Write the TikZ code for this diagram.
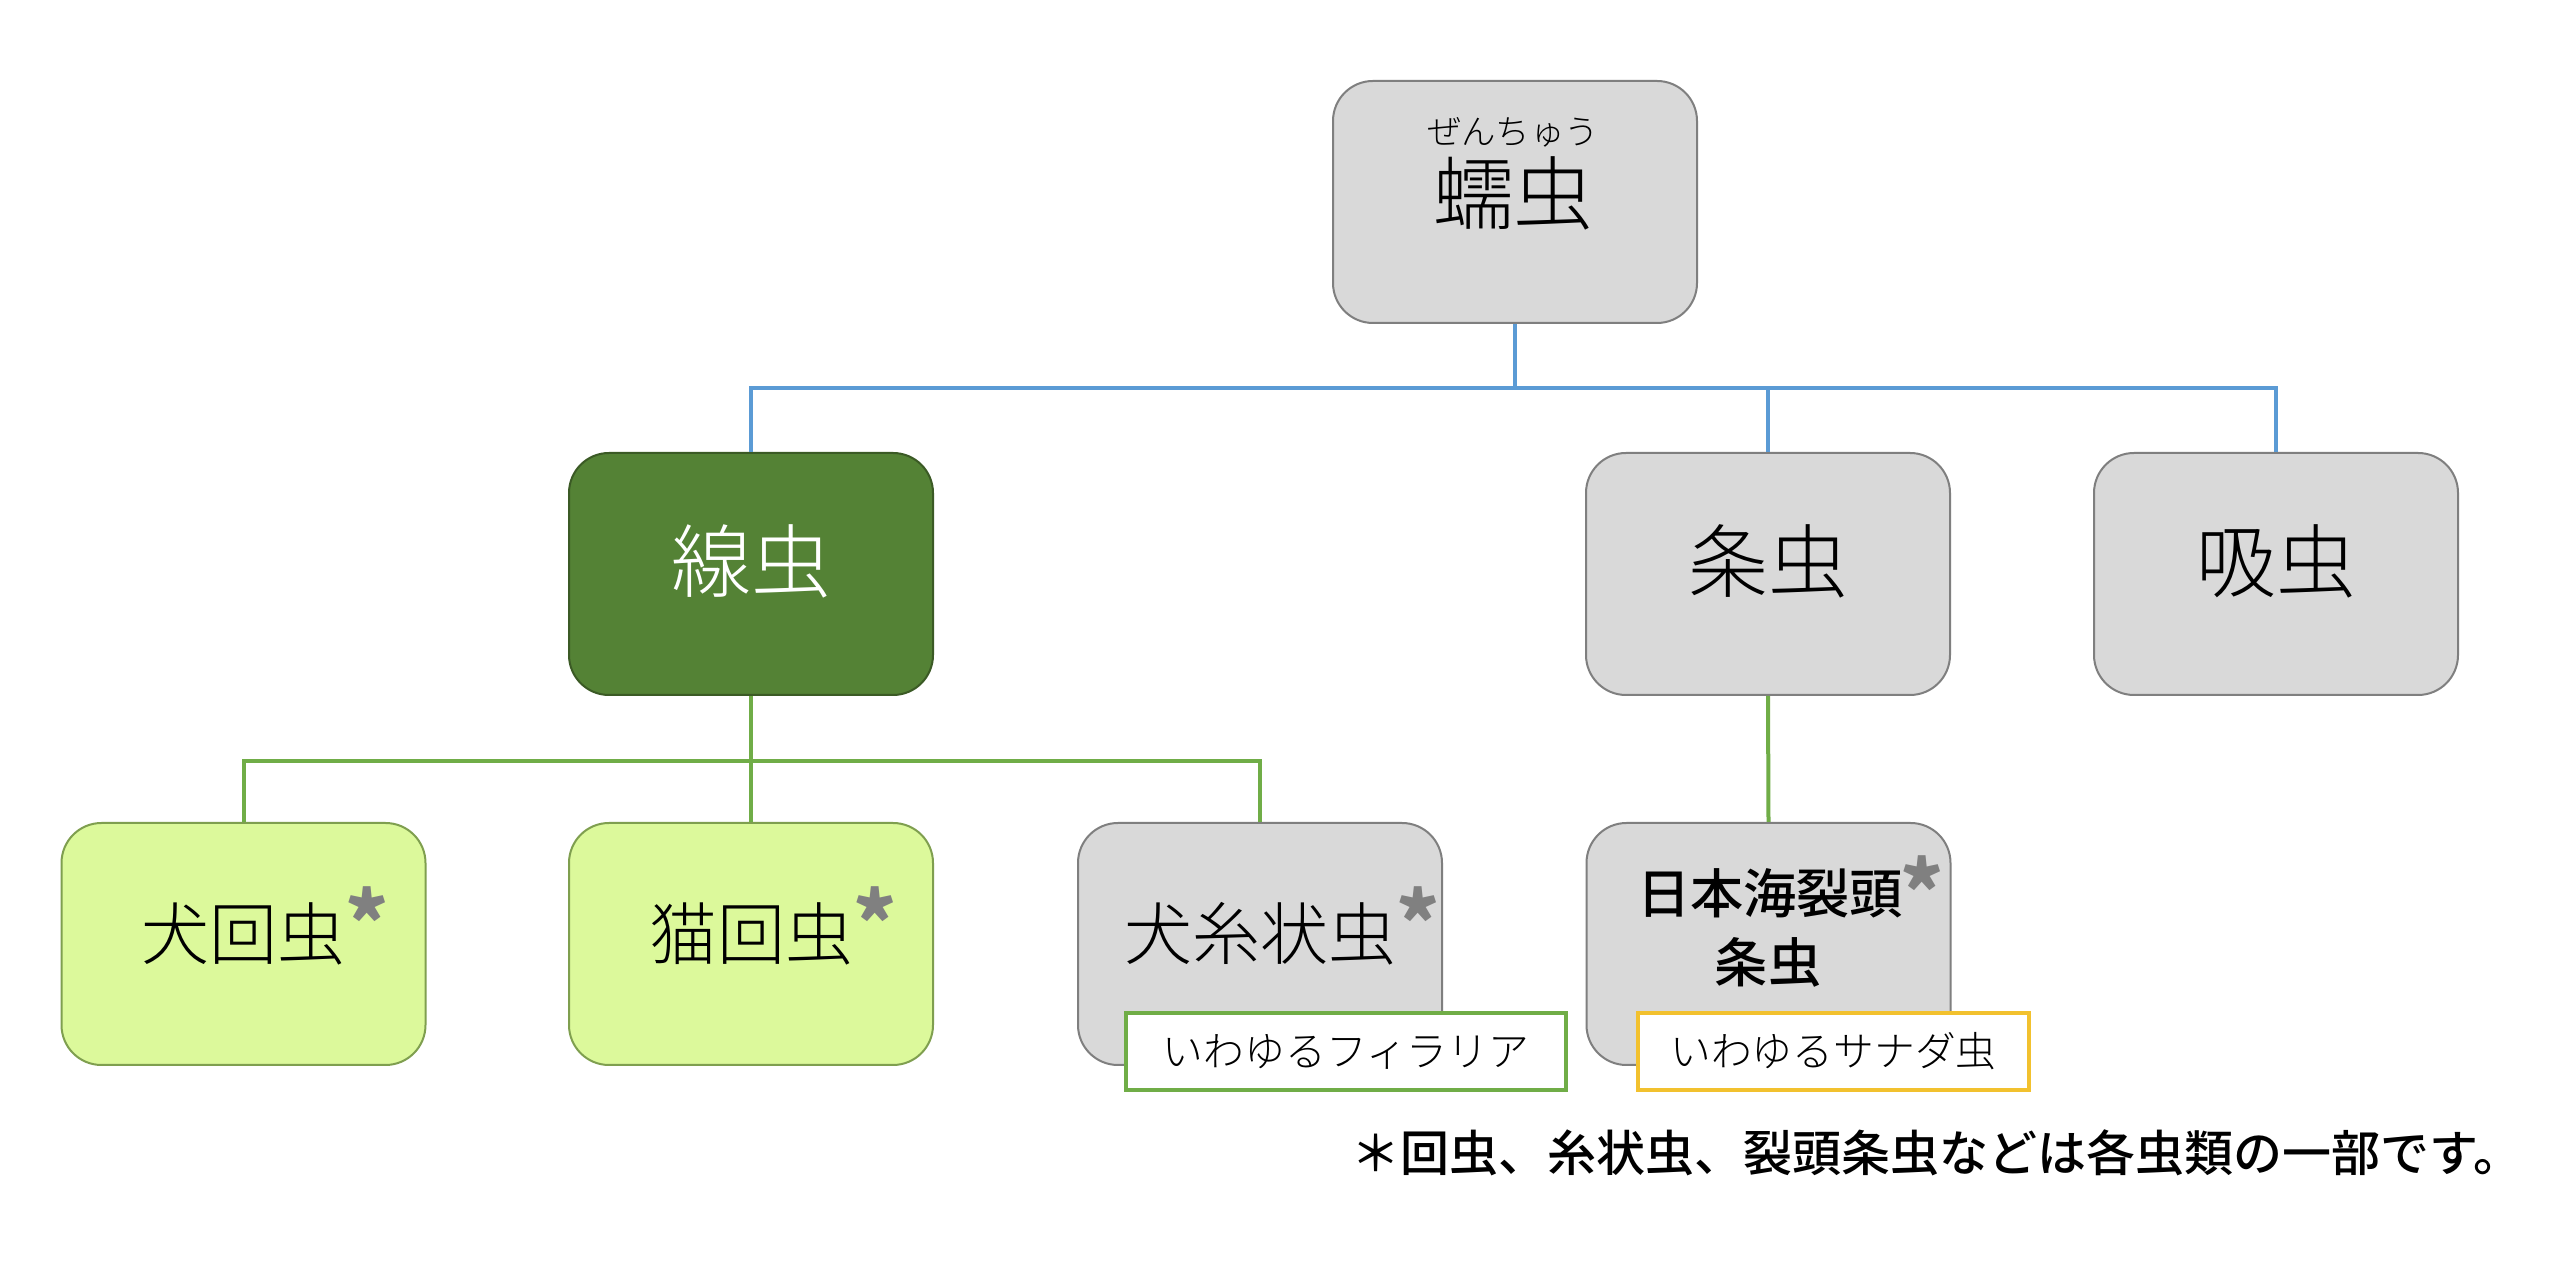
\documentclass[tikz,border=0pt]{standalone}
\usepackage{fontspec}
\newfontfamily\cjk{Noto Sans CJK JP}
\newfontfamily\cjklight{Noto Sans CJK JP Light}
\newfontfamily\cjkmed{Noto Sans CJK JP Medium}
\definecolor{grayfill}{HTML}{D9D9D9}
\definecolor{grayline}{HTML}{7F7F7F}
\definecolor{darkgreenfill}{HTML}{548235}
\definecolor{darkgreenline}{HTML}{3B5A25}
\definecolor{lightgreenfill}{HTML}{DCF99B}
\definecolor{lightgreenline}{HTML}{7F9F4F}
\definecolor{conblue}{HTML}{5B9BD5}
\definecolor{congreen}{HTML}{70AD47}
\definecolor{tagyellow}{HTML}{F2C12E}
\definecolor{astgray}{HTML}{808080}
\newcommand\astglyph{\textcolor{astgray}{\cjk\bfseries\fontsize{20.5}{20.5}\selectfont *}}
\newcommand\grayast{\rlap{\smash{\raisebox{4pt}{\astglyph}}}}
\newcommand\upby[2]{\raisebox{#1}[\height][\depth]{#2}}
\begin{document}
\begin{tikzpicture}[x=0.25pt,y=-0.25pt,
  box/.style={rounded corners=10pt, line width=0.5pt, minimum width=91pt, minimum height=60.5pt, inner sep=0pt, align=center},
  graybox/.style={box, draw=grayline, fill=grayfill},
  darkbox/.style={box, draw=darkgreenline, fill=darkgreenfill, text=white},
  lightbox/.style={box, draw=lightgreenline, fill=lightgreenfill},
  bigtext/.style={font=\cjklight\fontsize{20}{24}\selectfont},
  midtext/.style={font=\cjklight\fontsize{17}{20}\selectfont},
  tagbox/.style={draw, fill=white, line width=1pt, minimum height=19.25pt, inner sep=0pt, font=\cjklight\fontsize{10.2}{12}\selectfont},
  blueline/.style={draw=conblue, line width=1pt},
  greenline/.style={draw=congreen, line width=1pt}
]
\path[use as bounding box, fill=white] (0,0) rectangle (2560,1281);

\coordinate (bj) at (1515,388);
\coordinate (gj) at (751,761);

% level 1
\node[graybox] (top) at (1515,202) {};
\node[font=\cjklight\fontsize{8.6}{10}\selectfont] (topruby) at (1513,132) {ぜんちゅう};
\node[bigtext] (toptext) at (1513,193) {蠕虫};

% level 2
\node[darkbox, bigtext] (nem) at (751,574) {\upby{3.2pt}{線虫}};
\node[graybox, bigtext] (ces) at (1768,574) {\upby{3.2pt}{条虫}};
\node[graybox, bigtext] (tre) at (2276,574) {\upby{3.2pt}{吸虫}};

% level 3
\node[lightbox, midtext] (inu) at (243.5,944) {\upby{2.5pt}{犬回虫}\grayast};
\node[lightbox, midtext] (neko) at (751,944) {\upby{2.5pt}{猫回虫}\grayast};
\node[graybox, midtext] (fil) at (1260,944) {\upby{2.5pt}{犬糸状虫}\grayast};
\node[graybox] (jap) at (1768.5,944) {};
\node[font=\cjkmed\fontsize{13.3}{16}\selectfont] (japtext1) at (1770,893) {日本海裂頭};
\node[font=\cjkmed\fontsize{13.3}{16}\selectfont] (japtext2) at (1768,962) {条虫};
\node[inner sep=0pt] (japast) at (1922,889) {\astglyph};

% tags
\node[tagbox, draw=congreen, minimum width=110pt] (filtag) at (1346,1051.5) {いわゆるフィラリア};
\node[tagbox, draw=tagyellow, minimum width=97.75pt] (japtag) at (1833.5,1051.5) {いわゆるサナダ虫};

% connectors
\draw[blueline] (top.south) -- (bj);
\draw[blueline] (nem.north) -- (nem.north |- bj) -- (tre.north |- bj) -- (tre.north);
\draw[blueline] (ces.north) -- (ces.north |- bj);
\draw[greenline] (nem.south) -- (neko.north);
\draw[greenline] (inu.north) -- (inu.north |- gj) -- (fil.north |- gj) -- (fil.north);
\draw[greenline] (ces.south) -- (jap.north);

% footnote
\node[font=\cjkmed\fontsize{12.25}{14}\selectfont] (note) at (1937,1153) {＊回虫、糸状虫、裂頭条虫などは各虫類の一部です。};
\end{tikzpicture}
\end{document}
